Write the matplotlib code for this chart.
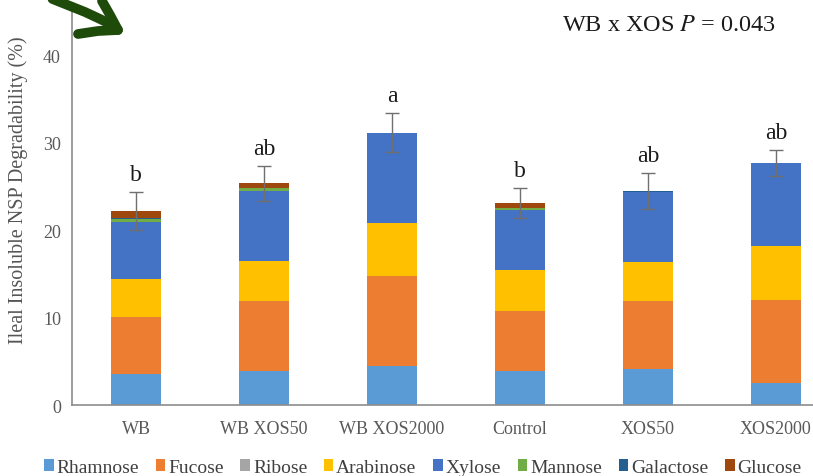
import numpy as np
import matplotlib
matplotlib.use("Agg")
import matplotlib.pyplot as plt
from matplotlib.lines import Line2D

plt.rcParams['font.family'] = ['Liberation Serif', 'DejaVu Serif']

groups = ['WB', 'WB XOS50', 'WB XOS2000', 'Control', 'XOS50', 'XOS2000']
sugars = ['Rhamnose', 'Fucose', 'Ribose', 'Arabinose', 'Xylose', 'Mannose', 'Galactose', 'Glucose']
colors = ['#5B9BD5', '#ED7D31', '#A5A5A5', '#FFC000', '#4472C4', '#70AD47', '#255E91', '#9E480E']

# segment heights (%)
rhamnose  = [3.5, 3.9, 4.5, 3.9, 4.1, 2.5]
fucose    = [6.6, 8.0, 10.3, 6.9, 7.8, 9.5]
ribose    = [0.0, 0.0, 0.0, 0.0, 0.0, 0.0]
arabinose = [4.3, 4.6, 6.0, 4.7, 4.5, 6.2]
xylose    = [6.6, 8.0, 10.4, 6.8, 8.0, 9.5]
mannose   = [0.3, 0.3, 0.0, 0.2, 0.0, 0.0]
galactose = [0.1, 0.1, 0.0, 0.1, 0.1, 0.0]
glucose   = [0.8, 0.5, 0.0, 0.5, 0.0, 0.0]
err       = [2.2, 2.0, 2.2, 1.7, 2.1, 1.5]
letters   = ['b', 'ab', 'a', 'b', 'ab', 'ab']

series = [rhamnose, fucose, ribose, arabinose, xylose, mannose, galactose, glucose]

fig = plt.figure(figsize=(8.13, 4.77), dpi=100)
ax = fig.add_axes([0.0886, 0.1488, 0.9114, 0.824])

x = np.arange(len(groups))
bottom = np.zeros(len(groups))
for name, vals, c in zip(sugars, series, colors):
    ax.bar(x, vals, width=0.39, bottom=bottom, color=c, label=name, zorder=2)
    bottom += np.array(vals)

ax.errorbar(x, bottom, yerr=err, fmt='none', ecolor='#707070', elinewidth=1,
            capsize=5, capthick=1, zorder=3)
for xi, top, e, lab in zip(x, bottom, err, letters):
    ax.text(xi, top + e + 0.8, lab, ha='center', va='bottom', fontsize=17, color='#1a1a1a')

ax.set_xlim(-0.5, 5.29)
ax.set_ylim(0, 45)
ax.set_yticks([0, 10, 20, 30, 40])
ax.set_xticks(x)
ax.set_xticklabels(groups)
ax.tick_params(axis='both', length=0, labelsize=13, colors='#595959', pad=8)
ax.tick_params(axis='x', pad=11)
for s in ['top', 'right']:
    ax.spines[s].set_visible(False)
for s in ['left', 'bottom']:
    ax.spines[s].set_color('#8c8c8c')
    ax.spines[s].set_linewidth(1.2)
ax.set_ylabel('Ileal Insoluble NSP Degradability (%)', fontsize=14.5, color='#555555')
ax.yaxis.set_label_coords(-0.06, 0.55)

fig.text(0.691, 0.947, 'WB x XOS $\\mathit{P}$ = 0.043', fontsize=17.5, color='#1a1a1a',
         ha='left', va='center', math_fontfamily='stix')

handles, labels = ax.get_legend_handles_labels()
fig.legend(handles, labels, loc='center', bbox_to_anchor=(0.52, 0.018), ncol=8,
           frameon=False, fontsize=14, handlelength=0.5, handleheight=0.5,
           handletextpad=0.15, columnspacing=0.85, labelcolor='#404040')

# green hand-drawn arrow in the corner (figure pixel coords -> fraction)
W, H = 813., 477.
def fx(px): return px / W
def fy(py): return 1 - py / H
green = '#1E4A0A'
shaft_x = [45, 65, 85, 100, 112, 118]
shaft_y = [-3, 5, 13, 20, 26, 31]
arms_x = [102, 110, 118, 98, 78]
arms_y = [2, 16, 31, 32, 35]
fig.add_artist(Line2D([fx(v) for v in shaft_x], [fy(v) for v in shaft_y], color=green,
                      lw=7, solid_capstyle='round', solid_joinstyle='round'))
fig.add_artist(Line2D([fx(v) for v in arms_x], [fy(v) for v in arms_y], color=green,
                      lw=7, solid_capstyle='round', solid_joinstyle='round'))

fig.savefig('out.png', dpi=100)
